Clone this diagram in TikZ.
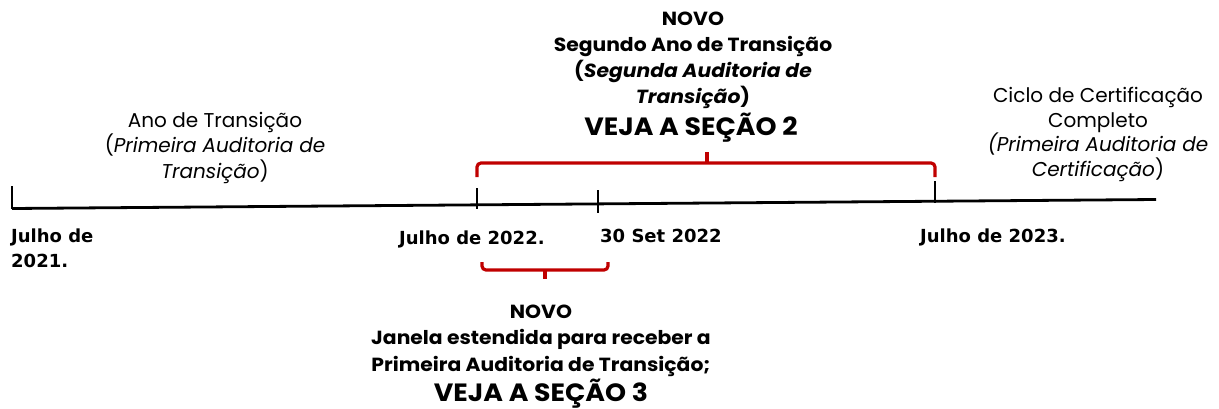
\documentclass[tikz,border=0pt]{standalone}
\usepackage{fontspec}
\setmainfont{Poppins}[BoldFeatures={FakeStretch=1.07},BoldItalicFeatures={FakeStretch=1.07}]
\newfontfamily\datefont{DejaVu Sans}
\definecolor{bracered}{HTML}{C00000}
\begin{document}
\begin{tikzpicture}[x=1pt,y=-1pt,
  timeline/.style={line width=2.8pt,black},
  tickmark/.style={line width=2.8pt,black},
  bracket/.style={line width=3.2pt,bracered,rounded corners=4pt},
  datelbl/.style={font=\datefont\bfseries\fontsize{18}{25}\selectfont,anchor=base west,inner sep=0pt,align=left},
  lighttxt/.style={font=\fontsize{20}{25}\selectfont,align=center,inner sep=0pt,anchor=base},
  boldtxt/.style={font=\bfseries\fontsize{19}{26.5}\selectfont,align=center,inner sep=0pt,anchor=base},
  bigtxt/.style={font=\bfseries\fontsize{25}{27}\selectfont,inner sep=0pt,anchor=base}]
\useasboundingbox (0,0) rectangle (1219,408);
% timeline
\coordinate (tl0) at (12,208.5);
\coordinate (tl1) at (1156,199.5);
\draw[timeline] (tl0) -- (tl1);
% ticks
\coordinate (t1a) at (12,186); \coordinate (t1b) at (12,208.5);
\coordinate (t2a) at (477,188); \coordinate (t2b) at (477,209);
\coordinate (t3a) at (598,190); \coordinate (t3b) at (598,213);
\coordinate (t4a) at (935,181); \coordinate (t4b) at (935,203);
\draw[tickmark] (t1a) -- (t1b);
\draw[tickmark] (t2a) -- (t2b);
\draw[tickmark] (t3a) -- (t3b);
\draw[tickmark] (t4a) -- (t4b);
% upper bracket
\coordinate (ua) at (477,177); \coordinate (ub) at (935,177);
\coordinate (um) at (707,163); \coordinate (ut) at (707,152);
\draw[bracket] (ua) -- (477,163) -- (935,163) -- (ub);
\draw[bracket] (um) -- (ut);
% lower bracket
\coordinate (la) at (482,262); \coordinate (lb) at (608,262);
\coordinate (lm) at (545,270); \coordinate (lt) at (545,279);
\draw[bracket] (la) -- (482,270) -- (608,270) -- (lb);
\draw[bracket] (lm) -- (lt);
% date labels (anchor = baseline of last line)
\node[datelbl] (d1) at (11,267) {Julho de\\2021.};
\node[datelbl] (d2) at (399,244) {Julho de 2022.};
\node[datelbl] (d3) at (600,242) {30 Set 2022};
\node[datelbl] (d4) at (920,242) {Julho de 2023.};
% left text
\node[lighttxt,font=\fontsize{20}{25.5}\selectfont] (lt1) at (215,178) {Ano de Transição\\(\textit{Primeira Auditoria de}\\\textit{Transição})};
% right text
\node[lighttxt,font=\fontsize{20}{24.5}\selectfont] (rt1) at (1098,176) {Ciclo de Certificação\\Completo\\\textit{(Primeira Auditoria de}\\\textit{Certificação})};
% top text
\node[boldtxt,font=\bfseries\fontsize{19}{25.7}\selectfont] (tp1) at (693,103) {NOVO\\Segundo Ano de Transição\\(\textit{Segunda Auditoria de}\\\textit{Transição})};
\node[bigtxt] (tp2) at (691,135) {VEJA A SEÇÃO 2};
% bottom text
\node[boldtxt] (bt1) at (541,371) {NOVO\\Janela estendida para receber a\\Primeira Auditoria de Transição;};
\node[bigtxt] (bt2) at (541,401) {VEJA A SEÇÃO 3};
\end{tikzpicture}
\end{document}
